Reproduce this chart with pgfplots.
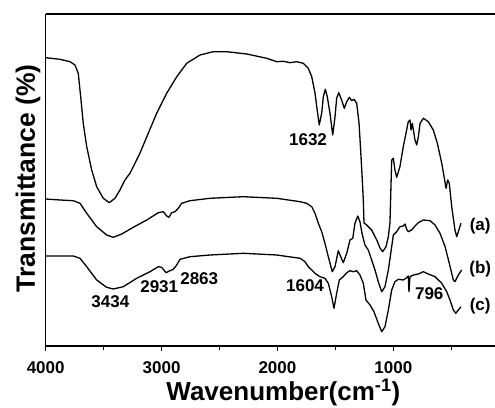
\documentclass[border=0pt]{standalone}
\usepackage{fontspec}
\setmainfont{Liberation Sans}
\usepackage{pgfplots}
\pgfplotsset{compat=1.18}
\begin{document}
\begin{tikzpicture}
\useasboundingbox (0,0) rectangle (495pt,407pt);
\begin{axis}[
  at={(45.7pt,61pt)}, anchor=south west,
  scale only axis, width=449.3pt, height=332pt,
  x dir=reverse, xmin=122.5, xmax=4000, ymin=0, ymax=332,
  axis x line=box, axis y line=left,
  axis line style={-, line width=1.2pt},
  xtick={1000,2000,3000,4000}, minor xtick={500,1500,2500,3500},
  xtick pos=bottom, tick align=outside,
  major tick length=5pt, minor tick length=3.5pt,
  every tick/.style={black, line width=1.2pt},
  ytick=\empty,
  scaled ticks=false,
  /pgf/number format/assume math mode=true,
  /pgf/number format/1000 sep={},
  xticklabel style={font=\bfseries\fontsize{17}{18}\selectfont, yshift=-7.5pt},
  xlabel={Wavenumber(cm\textsuperscript{-1})},
  ylabel={Transmittance (\%)},
  xlabel style={font=\bfseries\fontsize{26}{30}\selectfont, at={(axis description cs:0.529,-0.139)}, anchor=center},
  ylabel style={font=\bfseries\fontsize{26.5}{30}\selectfont, at={(axis description cs:-0.0394,0.505)}, anchor=center},
  clip=true,
]
% curve (a)
\addplot[black, line width=1.3pt, line join=round] coordinates {
(4000,288.3)(3877,286.7)(3790,284.3)(3747,281)(3719,272.7)(3698,249.3)(3676,222.7)(3646,199.3)(3603,176)(3560,159.3)(3503,147.7)(3451,143.3)(3402,147.7)(3359,156)(3316,166)(3273,172.7)(3244,179.3)(3187,192.7)(3115,212.7)(3042,232.7)(2956,252.7)(2869,269.3)(2783,282.7)(2668,291)(2554,294.3)(2438,294.3)(2265,292)(2093,287.7)(2006,284.3)(1949,284.7)(1892,283.3)(1834,284.3)(1777,282.7)(1734,277.7)(1704,269.3)(1676,253)(1661,239.3)(1639,221)(1618,233)(1604,249.3)(1587,256.7)(1570,249.3)(1547,233)(1523,211)(1503,229.3)(1489,247.7)(1471,253.3)(1446,246)(1423,237.7)(1402,244.3)(1380,248.7)(1359,245.3)(1339,246.7)(1316,242.7)(1296,223)(1282,196)(1270,171)(1259,146)(1253,123)(1230,121)(1187,116)(1143,106)(1115,98)(1092,94.3)(1063,99.3)(1043,109.3)(1029,123)(1014,186)(1000,187.7)(986,176)(971,168.7)(943,179.3)(914,199.3)(885,216)(871,224.3)(856,226)(847,216)(836,222.7)(813,206)(798,201)(784,209.3)(769,222.7)(741,227.7)(698,224.3)(655,216)(620,202.7)(582,182.7)(562,169.3)(545,157.7)(531,166)(517,162.7)(496,139.3)(468,116)(453,109.3)(439,114.3)(416,122.7)
};
% curve (b)
\addplot[black, line width=1.3pt, line join=round] coordinates {
(4000,147)(3877,146)(3762,145.3)(3704,142.7)(3646,132.7)(3560,119.3)(3474,111)(3417,108.7)(3344,112)(3244,118.7)(3128,126)(3028,133.3)(2985,134.3)(2956,130)(2936,128.7)(2913,133.3)(2884,134.3)(2856,137.7)(2826,142.7)(2755,145.3)(2582,147.7)(2295,149.3)(2006,147.7)(1805,144.3)(1748,142.7)(1704,139.3)(1676,132.7)(1647,122.7)(1618,114.3)(1590,102.7)(1561,89.3)(1527,74.3)(1503,79.3)(1475,95.3)(1454,89.3)(1432,83.3)(1402,92.7)(1374,106)(1350,107.7)(1331,122.7)(1307,130)(1288,124.3)(1270,112.7)(1245,101)(1216,96)(1187,86)(1158,76)(1130,64.3)(1100,54.3)(1072,59.3)(1043,76)(1014,99.3)(1000,111)(971,114.3)(943,119.3)(914,120)(899,122)(885,116.7)(871,114.3)(842,116)(813,120)(784,123.3)(741,126)(683,125.3)(640,121)(597,112.7)(553,99.3)(517,82.7)(482,66)(468,64.3)(439,71)(410,76)
};
% curve (c)
\addplot[black, line width=1.3pt, line join=round] coordinates {
(4000,90)(3877,90)(3762,90)(3704,87.7)(3646,79.3)(3560,66)(3474,58.7)(3417,57)(3330,59.3)(3215,67.7)(3100,74.3)(3028,79.3)(2999,78.7)(2962,73.3)(2927,75.3)(2899,76.7)(2869,81)(2841,86.7)(2755,89.3)(2582,91)(2295,92.7)(2006,91)(1805,87.7)(1762,84.3)(1734,79.3)(1704,76)(1676,72.7)(1633,69.3)(1590,67.7)(1561,62.7)(1532,49.3)(1512,37.7)(1489,52.7)(1466,66)(1432,69.3)(1402,73.3)(1374,75.3)(1345,74.3)(1316,75.3)(1288,71)(1259,62.7)(1236,46)(1201,41)(1167,34.3)(1130,22.7)(1100,14.3)(1072,19.3)(1043,36)(1014,56)(986,64.3)(957,66.7)(914,66)(891,67.7)(871,70)(865,54.3)(856,69.3)(827,71)(784,72)(741,74.3)(698,72)(640,69.3)(582,62.7)(539,54.3)(511,46)(482,36)(461,32.7)(439,36)(416,39.3)
};
\begin{scope}[every node/.style={font=\bfseries\fontsize{17}{18}\selectfont, inner sep=0pt}]
\node at (axis cs:1736,206) {1632};
\node at (axis cs:3442,44.3) {3434};
\node at (axis cs:3020,59.3) {2931};
\node at (axis cs:2675,67.7) {2863};
\node at (axis cs:1762,60) {1604};
\node at (axis cs:690,52.3) {796};
\node at (axis cs:250,120) {(a)};
\node at (axis cs:250,77) {(b)};
\node at (axis cs:250,40) {(c)};
\end{scope}
\end{axis}
\end{tikzpicture}
\end{document}
